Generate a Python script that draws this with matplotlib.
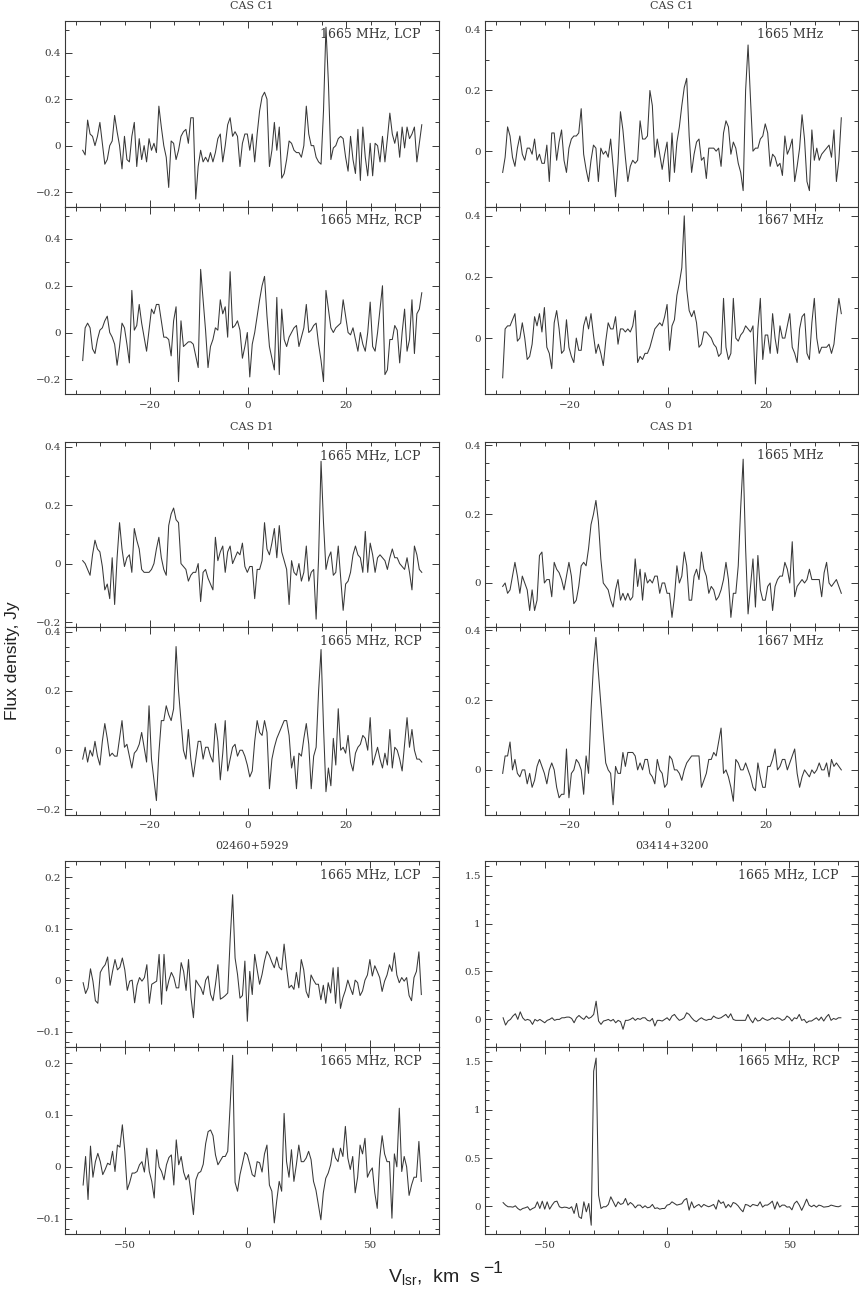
import numpy as np
import matplotlib
matplotlib.use("Agg")
import matplotlib.pyplot as plt
from matplotlib.text import Annotation
from matplotlib.ticker import MultipleLocator, FuncFormatter

# channel grids, km/s
cas_v0, cas_dv = -33.6, 0.5
iras_v0, iras_dv = -67.0, 1.0

# CAS C1 / CAS D1 spectra, flux in units of 0.01 Jy
c1_lcp = [-2, -4, 11, 5, 4, 0, 4, 10, 1, -8,
          -6, 0, 2, 13, 6, 0, -10, 4, -6, -7,
          4, 10, -9, 3, -6, 0, -7, 3, -2, 1,
          -3, 17, 8, 0, -5, -18, 2, 1, -6, -2,
          4, 6, 7, 1, 12, 12, -23, -9, -2, -7,
          -5, -7, -3, -7, -3, 3, 5, -7, 0, 9,
          12, 4, 6, 4, -9, 1, 5, 5, -2, 5,
          -7, 5, 15, 21, 23, 20, -9, -2, 10, -2,
          8, -14, -12, -6, 2, 1, -2, -3, -3, -5,
          0, 17, 5, 0, 0, -5, -7, -8, 15, 51,
          27, -6, -1, 0, 3, 4, 3, -5, -11, 4,
          -6, -12, 7, -15, 8, -5, -13, 1, -13, 1,
          0, -7, 4, -7, 3, 14, 5, 1, 6, -5,
          8, -1, 8, 3, 5, 8, -7, 1, 9]
c1_rcp = [-12, 2, 4, 2, -7, -9, -3, 1, 2, 5,
          7, 0, -2, -5, -14, -6, 4, 2, -5, -13,
          18, 1, 3, 12, 4, -2, -8, 1, 10, 8,
          12, 12, 5, -2, -2, -3, -10, 5, 11, -21,
          5, -6, -5, -4, -4, -5, -10, -15, 27, 14,
          1, -15, -6, -3, 2, 1, 14, 8, 11, -2,
          26, 2, 3, 5, 1, -11, -6, 0, -19, -5,
          0, 7, 14, 20, 24, 7, -6, -11, -16, 15,
          -18, 10, -3, -6, -2, 0, 2, 3, -6, -2,
          2, 12, 0, 1, 3, 4, -5, -12, -21, 18,
          10, 2, 0, 2, 3, 4, 14, 7, 0, -1,
          2, -3, -8, 0, -5, -8, 0, 13, -6, -8,
          0, 10, 20, -18, -16, -3, -3, 3, 1, -13,
          0, 10, -8, -3, 14, -9, 8, 10, 17]
c1_1665 = [-7, -2, 8, 5, -2, -5, 1, 5, -1, -3,
           1, 1, -1, 4, -3, -1, -4, -4, 2, -10,
           6, 6, -3, 3, 7, -3, -7, 1, 4, 5,
           5, 6, 14, -1, -6, -10, -3, 2, 1, -10,
           1, -1, 0, -2, 4, -5, -15, -4, 13, 7,
           -2, -10, -5, -3, -4, -3, 10, 4, 4, 5,
           20, 15, -2, 4, -1, -6, -1, 3, -10, 6,
           -7, 3, 8, 15, 21, 24, 5, -7, -1, 3,
           4, -3, -2, -9, 1, 1, 1, 0, 1, -5,
           6, 10, 8, -1, 3, 1, -4, -7, -13, 20,
           35, 17, 0, 1, 1, 4, 5, 9, 6, -5,
           -1, -2, -5, -4, -8, 5, -1, 1, 4, -10,
           -5, 1, 12, 4, -10, -13, 7, -3, 1, -3,
           -1, 0, 1, 2, -2, 7, -10, -3, 11]
c1_1667 = [-13, 3, 4, 4, 6, 8, -1, 0, 5, 0,
           -7, -6, -2, 7, 4, 8, 2, 10, -3, -5,
           -10, 5, 9, 3, -5, -4, 6, -3, -6, -8,
           0, -4, -4, 4, 7, 3, 8, 1, -5, -2,
           -5, -9, -1, 5, 3, 3, 7, -2, 3, 3,
           2, 3, 2, 4, 9, -8, -6, -7, -5, -5,
           -3, 0, 3, 4, 5, 4, 7, 11, -4, 4,
           6, 14, 18, 23, 40, 16, 9, 7, 9, 5,
           -3, -2, 2, 2, 1, 0, -2, -3, -6, -5,
           13, -3, -7, -5, 13, 0, -1, 1, 2, 4,
           3, 2, 4, -15, 3, 13, -7, 1, 1, -5,
           8, 0, -5, 4, 0, 0, 4, 8, -3, -5,
           -8, 3, 7, 8, -5, -7, 5, 13, 0, -5,
           -3, -3, -3, -2, -5, -2, 6, 13, 8]
d1_lcp = [1, 0, -2, -4, 3, 8, 5, 4, -1, -9,
          -7, -12, 2, -14, 2, 14, 5, -1, 2, 3,
          -3, 12, 8, 5, -2, -3, -3, -3, -2, 0,
          5, 9, 2, -2, -4, 13, 17, 19, 15, 14,
          0, -1, -2, -6, -4, -3, -3, 0, -13, -3,
          -2, -5, -7, -9, 9, 1, 4, 6, -3, 4,
          6, 0, 2, 4, 3, 7, -1, -3, -1, -1,
          -12, -2, -2, 1, 14, 5, 3, 7, 12, 2,
          13, 4, 1, -2, -14, 1, -3, -4, 0, -6,
          -3, 6, -6, -3, -2, -19, 2, 35, 14, -2,
          2, 4, -4, -3, 6, -5, -16, -7, -6, -3,
          3, 6, 3, 2, -3, 11, -3, 7, 3, -3,
          2, 3, 2, 1, -2, 2, 5, 2, 2, 0,
          -1, -2, 2, -3, -9, 6, 3, -2, -3]
d1_rcp = [-3, 1, -4, 0, -2, 3, -2, -5, 3, 9,
          4, -2, -1, -2, -2, 4, 10, 1, 2, -2,
          -6, -1, 0, 2, 6, 1, -4, 15, -3, -10,
          -17, -1, 10, 10, 15, 12, 10, 14, 35, 20,
          10, 0, -3, 7, -3, -9, -3, 3, 3, -3,
          1, 1, -2, -4, 9, 3, -10, -1, 10, -7,
          -3, 1, 2, -2, 0, 0, -2, -5, -9, -7,
          3, 10, 6, 5, 10, 6, -13, -3, 1, 4,
          6, 8, 10, 10, 5, -6, -2, -13, -1, -2,
          4, 9, 2, -13, -2, 1, 20, 34, 8, -14,
          -6, -12, 4, -5, 14, 0, 1, -1, 5, -4,
          -7, -1, 1, 2, 5, 4, 0, 11, -5, -2,
          1, -3, -6, -1, -5, 7, -6, 1, 0, -3,
          -7, 2, 11, 1, 7, 0, -3, -3, -4]
d1_1665 = [-1, 0, -3, -2, 2, 6, 2, -3, 2, 0,
           -2, -8, -2, -8, -5, 8, 9, 0, 1, 1,
           -4, 6, 4, 3, 1, -2, 2, 6, 2, -6,
           -5, -1, 5, 6, 5, 10, 17, 20, 24, 18,
           7, 0, -1, -2, -5, -7, -2, 1, -5, -3,
           -5, -3, -5, -4, 7, -1, 4, -5, 3, 0,
           1, 0, 2, 2, -3, 0, 0, -3, -3, -10,
           -4, 5, 0, 2, 9, 5, -5, -5, 2, 4,
           1, 9, 4, 2, -3, -1, -2, -5, -4, -2,
           1, 6, 1, -10, -3, -3, 5, 22, 36, 10,
           -9, -1, 7, -7, 8, -2, -5, -5, -1, 0,
           -8, -1, 1, 2, 2, 6, 4, 0, 12, -4,
           -1, 0, 1, 0, 1, 4, 1, 1, 1, 1,
           -4, 3, 6, 0, -1, 0, 1, -1, -3]
d1_1667 = [-1, 4, 4, 8, 0, 3, -1, -2, 0, 0,
           -4, -1, -5, -3, 1, 3, 1, -1, -4, 0,
           2, 0, -5, -8, -7, -7, 6, -8, -1, 0,
           3, 2, 0, -7, 4, -1, 17, 30, 38, 28,
           19, 10, 2, 0, -1, -10, 1, -1, -1, 5,
           1, 5, 5, 5, 4, 0, 2, 0, 3, 3,
           -1, -2, -4, 3, 0, -1, -5, -4, 4, 3,
           0, 0, -1, -3, 0, 2, 3, 4, 4, 4,
           4, -5, -3, -1, 3, 3, 5, 4, 8, 12,
           -1, 0, -2, -5, -9, 3, 2, 0, 0, 2,
           0, -2, -5, -6, 2, -2, -5, -5, 1, 1,
           3, 6, 0, 1, 3, 3, 0, 2, 4, 6,
           -1, -5, -2, 0, -1, -2, 0, -1, 0, 2,
           0, 0, 2, -2, 3, 1, 2, 1, 0]

# IRAS sources, flux in mJy
s02460_lcp = [-5, -26, -15, 22, -2, -40, -45, 15, 24, 30,
              45, -10, 17, 40, 20, 25, 43, 20, -20, -2,
              0, -44, -10, 5, -2, 5, 30, -45, -8, -5,
              -2, 50, -47, 50, -21, 0, 15, 5, -15, -15,
              34, 17, -20, 40, -34, -73, 0, -8, -15, -28,
              0, 8, -28, -40, -8, 30, -37, -34, -30, -25,
              80, 166, 43, 11, -35, -30, 37, -80, 17, -28,
              50, 20, -8, 11, 37, 56, 48, 35, 24, 45,
              25, 20, 70, 24, -15, -10, -18, 15, -15, 40,
              20, -22, -34, 10, 0, -8, -8, -38, -10, -45,
              -5, -25, 24, -45, 25, -55, -34, -20, 0, -15,
              -28, 0, -5, -30, -21, 0, 10, 40, 8, 28,
              17, 5, -22, -2, 10, 30, 17, 53, 10, -5,
              5, -2, 5, -30, -40, 5, 17, 55, -28]
s02460_rcp = [-35, 20, -63, 40, -20, 10, 26, 10, -15, -5,
              7, 4, 30, -9, 42, 38, 81, 30, -44, -30,
              -12, -12, -9, 4, 10, -10, 36, -9, -28, -60,
              33, 0, -9, -25, 4, 18, 23, -35, 52, 4,
              20, -10, -25, -15, -50, -92, -25, -12, -9, 5,
              45, 68, 71, 60, 23, 4, 12, 20, 20, 30,
              120, 215, -30, -47, -15, 6, 28, 23, 5, -15,
              -19, 10, 8, -10, 25, 42, -35, -47, -108, -65,
              -28, -47, 103, 10, -20, 33, -28, 4, 42, 10,
              10, 17, 30, 14, -28, -45, -73, -102, -50, -22,
              -12, 4, 36, 17, 10, 36, 20, 78, 17, -5,
              20, -50, -20, 42, 25, 55, -20, -9, -2, -50,
              -80, 15, 60, 25, 10, 10, -99, 25, 0, 113,
              -9, 20, 0, -55, -35, -20, -20, 49, -28]
s03414_lcp = [17, -59, -17, 0, 35, 59, 0, 79, 17, -10,
              0, -10, -52, 0, -17, 0, -17, -35, -10, 0,
              17, -10, 0, 0, 17, 17, 24, 24, 10, -35,
              17, 41, 17, 0, 35, 10, 24, 52, 190, -17,
              -52, -17, -10, 0, -17, 0, -35, -10, -24, -103,
              -10, -10, 0, 17, -10, 10, 0, 17, 17, -10,
              -17, 10, -69, -10, -10, -17, 0, 17, -10, 35,
              52, 17, -10, 0, 17, 69, 52, 17, -10, -24,
              0, 17, 0, -10, 0, 0, 35, 17, 10, 17,
              35, 52, 17, 59, 0, -10, -10, -10, -10, -10,
              52, 0, -35, 17, -17, -10, 17, 0, -10, 0,
              17, 0, 17, 10, -10, 0, 35, 17, -17, 17,
              7, 52, -10, 0, -35, -17, -17, 0, 17, -10,
              24, -17, 24, 52, -10, 10, 0, 17, 17]
s03414_rcp = [40, 14, -3, -3, -7, 7, -21, -38, -21, -14,
              -3, -38, -21, -10, 48, -21, 55, -28, 48, -28,
              14, 48, 55, -3, -14, -7, -10, -21, -3, -72,
              31, -107, -124, 48, -55, 31, -194, 1400, 1535, 117,
              -21, -3, -3, 21, 100, 48, -3, 48, 21, 31,
              83, 14, 41, 21, -14, 14, 14, -14, 7, -14,
              -7, 21, -21, -14, -28, -21, -21, 14, 21, 48,
              31, 14, 21, 28, 66, 83, -38, 48, -14, 7,
              21, -7, 21, 7, -3, 7, 21, -28, 66, 31,
              48, -14, 21, -7, 41, 31, 7, -28, -55, 21,
              14, -3, 21, 14, 7, 48, -7, 14, 14, 31,
              55, -28, 48, -7, 14, 14, -7, -3, -35, 31,
              55, 14, -40, 14, 76, 14, -3, 14, -7, 14,
              7, -7, -3, 0, 14, 7, 0, -3, 7]

titles = [("CAS C1", "CAS C1"), ("CAS D1", "CAS D1"), ("02460+5929", "03414+3200")]

plt.rcParams["font.family"] = ["DejaVu Serif"]
plt.rcParams["mathtext.fontset"] = "custom"
plt.rcParams["mathtext.rm"] = "Liberation Sans"
plt.rcParams["mathtext.it"] = "Liberation Sans"

W, H = 859, 1291
ink = "#383838"
fig = plt.figure(figsize=(W / 100, H / 100), dpi=100)

cols = {"L": (65, 438.5), "R": (485, 858)}
rows = [(20.7, 206.7, 394), (442, 627, 814.5), (861.3, 1047, 1234.3)]


def box(col, g, half):
    x0, x1 = cols[col]
    top, mid, bot = rows[g]
    y0, y1 = (top, mid) if half == 0 else (mid, bot)
    return [x0 / W, 1 - y1 / H, (x1 - x0) / W, (y1 - y0) / H], y1 - y0


def fmt(v, pos):
    v = round(v, 4)
    if abs(v) < 1e-9:
        v = 0.0
    return ("%g" % v).replace("-", "\u2212")


cas_x = dict(xlim=(-37.2, 38.8), xmaj=20, xmin=5)
iras_x = dict(xlim=(-74.4, 78.0), xmaj=50, xmin=10)

# col, group, half, flux, unit, grid, label, label x, ylim, y major, y minor
panels = [
    ("L", 0, 0, c1_lcp, 0.01, "cas", "1665 MHz, LCP", 0.683, (-0.263, 0.538), 0.2, 0.1),
    ("L", 0, 1, c1_rcp, 0.01, "cas", "1665 MHz, RCP", 0.683, (-0.263, 0.538), 0.2, 0.1),
    ("R", 0, 0, c1_1665, 0.01, "cas", "1665 MHz", 0.729, (-0.183, 0.43), 0.2, 0.1),
    ("R", 0, 1, c1_1667, 0.01, "cas", "1667 MHz", 0.729, (-0.183, 0.43), 0.2, 0.1),
    ("L", 1, 0, d1_lcp, 0.01, "cas", "1665 MHz, LCP", 0.683, (-0.217, 0.416), 0.2, 0.1),
    ("L", 1, 1, d1_rcp, 0.01, "cas", "1665 MHz, RCP", 0.683, (-0.217, 0.416), 0.2, 0.05),
    ("R", 1, 0, d1_1665, 0.01, "cas", "1665 MHz", 0.729, (-0.128, 0.41), 0.2, 0.05),
    ("R", 1, 1, d1_1667, 0.01, "cas", "1667 MHz", 0.729, (-0.128, 0.41), 0.2, 0.05),
    ("L", 2, 0, s02460_lcp, 0.001, "iras", "1665 MHz, LCP", 0.683, (-0.13, 0.231), 0.1, 0.02),
    ("L", 2, 1, s02460_rcp, 0.001, "iras", "1665 MHz, RCP", 0.683, (-0.13, 0.231), 0.1, 0.02),
    ("R", 2, 0, s03414_lcp, 0.001, "iras", "1665 MHz, LCP", 0.678, (-0.288, 1.65), 0.5, 0.1),
    ("R", 2, 1, s03414_rcp, 0.001, "iras", "1665 MHz, RCP", 0.678, (-0.288, 1.65), 0.5, 0.1),
]

for col, g, half, flux, unit, grid, label, lx, ylim, ymaj, ymin in panels:
    rect, hpx = box(col, g, half)
    ax = fig.add_axes(rect)
    if grid == "cas":
        v = cas_v0 + cas_dv * np.arange(len(flux))
        xs = cas_x
    else:
        v = iras_v0 + iras_dv * np.arange(len(flux))
        xs = iras_x
    ax.plot(v, np.array(flux) * unit, color=ink, lw=0.75)
    ax.set_xlim(*xs["xlim"])
    ax.set_ylim(*ylim)
    ax.xaxis.set_major_locator(MultipleLocator(xs["xmaj"]))
    ax.xaxis.set_minor_locator(MultipleLocator(xs["xmin"]))
    ax.yaxis.set_major_locator(MultipleLocator(ymaj))
    ax.yaxis.set_minor_locator(MultipleLocator(ymin))
    ax.xaxis.set_major_formatter(FuncFormatter(fmt))
    ax.yaxis.set_major_formatter(FuncFormatter(fmt))
    ax.tick_params(which="both", direction="in", top=True, right=True,
                   colors=ink, width=0.7, labelsize=7.5)
    ax.tick_params(which="major", length=5)
    ax.tick_params(which="minor", length=3)
    ax.tick_params(axis="y", pad=3)
    ax.tick_params(axis="x", pad=5)
    if half == 0:
        ax.tick_params(labelbottom=False)
        title = titles[g][0 if col == "L" else 1]
        ax.text(0.5, 1 + 15 / hpx, title, transform=ax.transAxes,
                ha="center", va="center", fontsize=8, color=ink)
    for s in ax.spines.values():
        s.set_color(ink)
        s.set_linewidth(0.8)
    ax.text(lx, 0.925, label, transform=ax.transAxes, ha="left",
            va="center", fontsize=9, color=ink)

fig.text(13 / W, 1 - 661 / H, "Flux density, Jy", rotation=90, ha="center",
         va="center", fontsize=12.5, family="Liberation Sans", color="#222222")
xlab = fig.text(388 / W, 1 - 1277 / H, r"V$_{\rm lsr}$,  km  s", ha="left",
                va="center", fontsize=14, family="Liberation Sans", color="#222222")
fig.add_artist(Annotation("\u22121", xy=(1.0, 0.55), xycoords=xlab,
                          xytext=(2, 0), textcoords="offset points",
                          ha="left", va="bottom", fontsize=12.5,
                          family="Liberation Sans", color="#222222"))

fig.savefig("out.png", dpi=100)
